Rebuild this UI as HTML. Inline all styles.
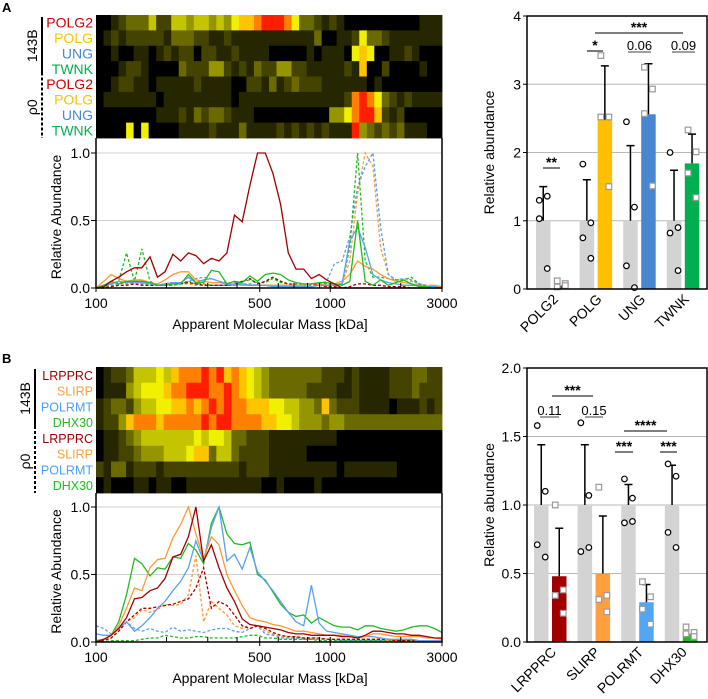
<!DOCTYPE html>
<html><head><meta charset="utf-8">
<style>
html,body{margin:0;padding:0;background:#fff;}
svg{display:block;font-family:"Liberation Sans",Arial,sans-serif;}
</style></head>
<body>
<svg id="fig" width="708" height="699" viewBox="0 0 708 699" xmlns="http://www.w3.org/2000/svg">
<text x="2" y="12" font-size="13" font-weight="bold">A</text>
<text x="2" y="363" font-size="13" font-weight="bold">B</text>
</svg>
<script>
// ---------- shared data ----------
const masses = [100,108,116,125,135,146,157,170,183,197,213,230,248,267,288,311,335,362,390,421,454,489,528,569,614,662,714,770,831,896,966,1042,1124,1212,1308,1410,1521,1641,1770,1909,2059,2221,2395,2583,2786,3000];
const xTickMajor = [100,500,1000,3000];
const xTickMinor = [200,300,400,600,700,800,900,2000];
const lineYTicks = [0,0.5,1.0];
const lineYTickLabels = ["0.0","0.5","1.0"];

// ---------- panel A data ----------
const heatLabelsA = ["POLG2","POLG","UNG","TWNK","POLG2","POLG","UNG","TWNK"];
const heatA = [
"0012333522554554546778999863321210000000000111",
"0121222221333221121111111111130011263321111111",
"0010011012122022112111100000101110676001121000",
"0001221000032224421213224422111112170020000100",
"0012211011111211110022131232221111110100000000",
"0111111101111111110111111111111112898632121111",
"0000000011121323321110000000000446899721200000",
"0000606000011112111311112121212111943232311100"];
const polg2S = [0,0.01,0.05,0.08,0.12,0.15,0.15,0.23,0.08,0.12,0.25,0.2,0.26,0.24,0.18,0.22,0.2,0.26,0.54,0.49,0.76,1.0,1.0,0.85,0.62,0.26,0.14,0.14,0.07,0.1,0.06,0.03,0,0,0,0,0,0,0,0,0,0,0,0,0,0];
const polgS = [0,0.05,0.1,0.07,0.05,0.06,0.06,0.04,0.03,0.06,0.1,0.12,0.12,0.06,0.05,0.04,0.04,0.03,0.03,0.02,0.02,0.02,0.02,0.02,0.02,0.02,0.02,0.02,0.03,0.03,0.02,0.03,0.05,0.1,0.2,0.16,0.14,0.1,0.07,0.05,0.04,0.03,0.02,0.01,0.02,0.01];
const ungS = [0,0.02,0.03,0.05,0.04,0.04,0.04,0.03,0.02,0.03,0.04,0.04,0.08,0.04,0.06,0.07,0.05,0.03,0.02,0.03,0.02,0.02,0.02,0.01,0.01,0.01,0.01,0.01,0.01,0.02,0.02,0.02,0.03,0.35,0.45,0.3,0.1,0.06,0.04,0.03,0.02,0.02,0.02,0.01,0.01,0];
const twnkS = [0,0.02,0.05,0.03,0.05,0.05,0.05,0.04,0.02,0.02,0.03,0.03,0.1,0.04,0.04,0.13,0.12,0.03,0.05,0.04,0.09,0.05,0.1,0.11,0.1,0.06,0.04,0.03,0.03,0.04,0.04,0.03,0.02,0.05,0.5,0.05,0.02,0.06,0.02,0.04,0.06,0.03,0.01,0.01,0,0];
const polg2D = [0,0,0.01,0.02,0.02,0.03,0.02,0.02,0.02,0.03,0.04,0.03,0.04,0.03,0.02,0.02,0.02,0.02,0.03,0.05,0.07,0.03,0.05,0.08,0.05,0.03,0.02,0.02,0.03,0.02,0.01,0.01,0,0.01,0.03,0.03,0.02,0.02,0.01,0.01,0.01,0,0,0,0,0];
const polgD = [0,0.02,0.04,0.04,0.03,0.04,0.04,0.03,0.02,0.02,0.02,0.03,0.03,0.02,0.02,0.02,0.02,0.02,0.02,0.02,0.02,0.02,0.02,0.02,0.02,0.02,0.02,0.02,0.03,0.02,0.02,0.02,0.03,0.2,0.7,1.0,0.9,0.3,0.1,0.06,0.05,0.05,0.03,0.02,0.02,0.01];
const ungD = [0,0.01,0.02,0.03,0.04,0.04,0.03,0.02,0.02,0.02,0.03,0.04,0.05,0.07,0.08,0.07,0.05,0.04,0.04,0.03,0.03,0.02,0.02,0.02,0.02,0.02,0.02,0.02,0.02,0.03,0.05,0.18,0.2,0.38,0.75,0.9,1.0,0.45,0.1,0.06,0.07,0.06,0.03,0.02,0.01,0.01];
const twnkD = [0,0,0.03,0.05,0.26,0.05,0.29,0.05,0.02,0.02,0.02,0.03,0.05,0.03,0.03,0.02,0.02,0.02,0.02,0.05,0.06,0.04,0.04,0.07,0.04,0.03,0.03,0.02,0.03,0.04,0.03,0.03,0.03,0.3,1.0,0.2,0.08,0.08,0.07,0.06,0.06,0.08,0.03,0.01,0,0];

const barCatsA = ["POLG2","POLG","UNG","TWNK"];
const barGrayA = [1,1,1,1];
const barColA = [0.05,2.48,2.56,1.84];
const errGrayA = [1.5,1.6,2.1,1.74];
const errColA = [null,3.27,3.3,2.27];
const ptsGrayA = [[1.3,1.36,1.03,0.3],[1.83,0.97,0.75,0.45],[2.45,1.2,0.34,0.02],[2.0,0.9,0.82,0.27]];
const ptsColA = [[0.03,0.08,0.12,0.05],[3.42,2.52,2.52,1.5],[3.25,2.93,2.57,1.51],[2.33,2.01,1.7,1.34]];
const barYTicksA = [0,1,2,3,4];
const barYTickLabelsA = ["0","1","2","3","4"];

// ---------- panel B data ----------
const heatLabelsB = ["LRPPRC","SLIRP","POLRMT","DHX30","LRPPRC","SLIRP","POLRMT","DHX30"];
const heatB = [
"0122355565788898978765433333332221211112223322",
"0111456667889998898765433333222211211112223222",
"1233245566778789898877766554437322211110111212",
"1224788878888898998888776654443443333333333333",
"0112345555555656653322211111111100000000000000",
"0112234445556773553222211111000000000000000000",
"2133122212222222222122211111111101111111000000",
"0100011011001111111111001000010000000000000000"];
const lrS = [0,0.02,0.05,0.1,0.18,0.32,0.33,0.38,0.4,0.47,0.63,0.65,0.78,1.0,0.6,0.72,0.55,0.4,0.3,0.17,0.13,0.12,0.11,0.1,0.09,0.07,0.06,0.06,0.05,0.05,0.05,0.05,0.04,0.04,0.03,0.05,0.08,0.08,0.07,0.06,0.06,0.05,0.05,0.04,0.03,0.03];
const slS = [0,0.02,0.05,0.12,0.25,0.4,0.38,0.55,0.61,0.62,0.77,0.87,1.0,0.8,0.62,0.78,0.72,0.5,0.38,0.27,0.18,0.16,0.15,0.13,0.12,0.1,0.08,0.08,0.07,0.06,0.05,0.05,0.05,0.04,0.03,0.04,0.06,0.06,0.05,0.04,0.04,0.04,0.04,0.03,0.03,0.02];
const poS = [0.06,0.05,0.05,0.1,0.15,0.08,0.12,0.18,0.25,0.3,0.38,0.45,0.55,0.75,0.6,0.85,1.0,0.6,0.65,0.54,0.7,0.52,0.45,0.38,0.3,0.22,0.15,0.12,0.42,0.14,0.08,0.07,0.06,0.05,0.04,0.04,0.04,0.03,0.02,0.02,0.02,0.02,0.01,0.01,0.01,0.01];
const dhS = [0.01,0.02,0.05,0.15,0.35,0.62,0.58,0.49,0.55,0.54,0.63,0.62,0.73,0.68,0.58,0.88,1.0,0.8,0.73,0.72,0.74,0.5,0.46,0.37,0.28,0.22,0.19,0.2,0.14,0.18,0.15,0.12,0.11,0.11,0.09,0.12,0.12,0.1,0.09,0.08,0.09,0.11,0.12,0.12,0.1,0.07];
const lrD = [0,0.01,0.03,0.08,0.15,0.2,0.25,0.25,0.26,0.27,0.28,0.3,0.32,0.4,0.55,0.25,0.3,0.27,0.2,0.12,0.1,0.12,0.1,0.07,0.05,0.04,0.04,0.03,0.03,0.03,0.02,0.02,0.02,0.02,0.02,0.02,0.02,0.02,0.02,0.01,0.01,0.01,0.01,0.01,0.01,0.01];
const slD = [0,0.01,0.03,0.08,0.15,0.18,0.24,0.22,0.24,0.28,0.27,0.28,0.35,0.64,0.15,0.3,0.25,0.2,0.12,0.1,0.13,0.12,0.08,0.06,0.04,0.04,0.04,0.03,0.03,0.03,0.02,0.02,0.02,0.02,0.02,0.02,0.02,0.02,0.01,0.01,0.01,0.01,0.01,0.01,0.01,0.01];
const poD = [0.12,0.1,0.06,0.1,0.15,0.1,0.08,0.1,0.08,0.07,0.11,0.08,0.09,0.08,0.07,0.09,0.1,0.1,0.08,0.07,0.1,0.12,0.06,0.05,0.03,0.03,0.03,0.02,0.02,0.02,0.02,0.02,0.01,0.01,0.01,0.01,0.01,0.01,0.01,0.01,0.01,0.01,0.01,0.01,0.01,0.01];
const dhD = [0,0,0.01,0.01,0.01,0.01,0.02,0.03,0.03,0.05,0.04,0.03,0.03,0.04,0.04,0.03,0.03,0.03,0.03,0.04,0.05,0.05,0.03,0.03,0.02,0.02,0.02,0.02,0.02,0.01,0.01,0.01,0.01,0.01,0.01,0.01,0.01,0.01,0.01,0.01,0.01,0.01,0.01,0.01,0.01,0.01];

const barCatsB = ["LRPPRC","SLIRP","POLRMT","DHX30"];
const barGrayB = [1,1,1,1];
const barColB = [0.48,0.5,0.29,0.06];
const errGrayB = [1.44,1.44,1.15,1.29];
const errColB = [0.83,0.92,0.42,null];
const ptsGrayB = [[1.58,1.1,0.71,0.62],[1.6,1.07,0.66,0.69],[1.19,1.05,0.87,0.88],[1.3,1.21,0.8,0.69]];
const ptsColB = [[1.0,0.38,0.34,0.21],[1.13,0.34,0.31,0.22],[0.44,0.33,0.24,0.13],[0.11,0.07,0.06,0.04]];
const barYTicksB = [0,0.5,1,1.5,2];
const barYTickLabelsB = ["0.0","0.5","1.0","1.5","2.0"];

// ---------- drawing ----------
const NS = "http://www.w3.org/2000/svg";
const svg = document.getElementById('fig');
function mk(tag, attrs, parent, txt){
  const e = document.createElementNS(NS, tag);
  for (const k in attrs) e.setAttribute(k, attrs[k]);
  if (txt !== undefined) e.textContent = txt;
  (parent||svg).appendChild(e);
  return e;
}
const heatColors = ["#000000","#262600","#444400","#6a6a00","#959500","#c4c400","#f0f000","#ffc400","#ff8000","#ff1e00"];
const L = 96, R = 442;
const xScale = m => L + (Math.log10(m) - 2) / Math.log10(30) * (R - L);

function drawHeat(top, bottom, rows, labels, labelColors, name, fs, bx){
  const g = mk('g', {});
  
  
  const rh = (bottom - top) / rows.length;
  const cw = (R - L) / rows[0].length;
  rows.forEach((row, r) => {
    for (let c = 0; c < row.length; c++){
      const cell = mk('rect', {x: L + c*cw, y: top + r*rh, width: cw + 0.4, height: rh + 0.4, fill: heatColors[+row[c]]}, g);
      
      
    }
    const t = mk('text', {x: 93, y: top + r*rh + rh/2 + 5, 'font-size': fs, 'text-anchor': 'end', fill: labelColors[r]}, svg, labels[r]);
    
    
  });
  const mid = top + (bottom - top) / 2;
  const b1 = mk('line', {x1: bx, y1: top + 2, x2: bx, y2: mid - 1, stroke: '#000', 'stroke-width': 2});
  
  
  const b2 = mk('line', {x1: bx, y1: mid + 1, x2: bx, y2: bottom, stroke: '#000', 'stroke-width': 2, 'stroke-dasharray': '3,2'});
  
  
  const t1 = mk('text', {x: 0, y: 0, 'font-size': 14, 'text-anchor': 'middle', transform: `translate(${bx-5},${top + (mid-top)/2}) rotate(-90)`}, svg, '143B');
  
  
  const t2 = mk('text', {x: 0, y: 0, 'font-size': 14, 'text-anchor': 'middle', transform: `translate(${bx-5},${mid + (bottom-mid)/2}) rotate(-90)`}, svg, 'ρ0');
  
  
}

function drawLines(top, y0, y1, series, name){
  const yS = v => y0 - v * (y0 - y1);
  const g = mk('g', {});
  
  
  lineYTicks.forEach((v, i) => {
    if (v > 0){
      const gl = mk('line', {x1: L, x2: R, y1: yS(v), y2: yS(v), stroke: '#cfcfcf', 'stroke-width': 1}, g);
      
      
    }
    mk('line', {x1: L - 5, x2: L, y1: yS(v), y2: yS(v), stroke: '#000'}, g);
    const tl = mk('text', {x: L - 6, y: yS(v) + 5, 'font-size': 14, 'text-anchor': 'end'}, g, lineYTickLabels[i]);
    
    
  });
  series.forEach(s => {
    const d = s.vals.map((v, i) => (i ? 'L' : 'M') + xScale(masses[i]).toFixed(1) + ',' + yS(v).toFixed(1)).join('');
    const p = mk('path', {d: d, fill: 'none', stroke: s.color, 'stroke-width': 1.3, 'stroke-dasharray': s.dash ? '3,2' : 'none'}, g);
    
    
  });
  const fr = mk('path', {d: `M${L},${top}V${y0}H${R}V${top}`, fill: 'none', stroke: '#000', 'stroke-width': 1.5}, g);
  
  
  xTickMinor.forEach(m => mk('line', {x1: xScale(m), x2: xScale(m), y1: y0 - 5, y2: y0, stroke: '#000'}, g));
  xTickMajor.forEach(m => {
    mk('line', {x1: xScale(m), x2: xScale(m), y1: y0 - 5, y2: y0 + 4, stroke: '#000'}, g);
    const tl = mk('text', {x: xScale(m), y: y0 + 20, 'font-size': 14, 'text-anchor': 'middle'}, g, String(m));
    
    
  });
  const xt = mk('text', {x: 270, y: y0 + 41, 'font-size': 14, 'text-anchor': 'middle'}, g, 'Apparent Molecular Mass [kDa]');
  
  
  const yt = mk('text', {x: 0, y: 0, 'font-size': 14, 'text-anchor': 'middle', transform: `translate(61,${(top + y0)/2 + 4}) rotate(-90)`}, g, 'Relative Abundance');
  
  
}

function drawBars(cfg){
  const bx0 = 527, bx1 = 707;
  const yS = v => cfg.y0 - v * cfg.unit;
  const g = mk('g', {});
  
  
  cfg.ticks.forEach((v, i) => {
    if (i > 0 && i < cfg.ticks.length - 1){
      const gl = mk('line', {x1: bx0, x2: bx1, y1: yS(v), y2: yS(v), stroke: '#b8b8b8'}, g);
      
      
    }
    mk('line', {x1: bx0 - 4, x2: bx0, y1: yS(v), y2: yS(v), stroke: '#000'}, g);
    const tl = mk('text', {x: bx0 - 6, y: yS(v) + 5, 'font-size': 14, 'text-anchor': 'end'}, g, cfg.tickLabels[i]);
    
    
  });
  const W = 14.5;
  cfg.cats.forEach((c, i) => {
    const gx = cfg.gx0 + i * 43.6, cx = gx + 18;
    const gb = mk('rect', {x: gx, y: yS(cfg.gray[i]), width: W, height: cfg.gray[i] * cfg.unit, fill: '#d3d3d3'}, g);
    
    
    const cb = mk('rect', {x: cx, y: yS(cfg.col[i]), width: W, height: cfg.col[i] * cfg.unit, fill: cfg.colors[i]}, g);
    
    
    [[gx, cfg.gray[i], cfg.errG[i]], [cx, cfg.col[i], cfg.errC[i]]].forEach(([x, v, e]) => {
      if (e === null) return;
      const eb = mk('path', {d: `M${x + W/2},${yS(v)}V${yS(e)}M${x + W/2 - 4},${yS(e)}H${x + W/2 + 4}`, stroke: '#000', 'stroke-width': 1.5, fill: 'none'}, g);
      
      
    });
    cfg.ptsG[i].forEach((v, k) => {
      const p = mk('circle', {cx: gx + W/2 + (k % 2 ? 4 : -4), cy: yS(v), r: 2.8, fill: '#fff', stroke: '#000', 'stroke-width': 1.2}, g);
      
      
    });
    cfg.ptsC[i].forEach((v, k) => {
      const p = mk('rect', {x: cx + W/2 + (k % 2 ? 4 : -4) - 2.8, y: yS(v) - 2.8, width: 5.6, height: 5.6, fill: '#fff', stroke: '#999', 'stroke-width': 1.2}, g);
      
      
    });
    const xl = mk('text', {x: 0, y: 0, 'font-size': 14, 'text-anchor': 'end', transform: `translate(${gx + 23},${cfg.y0 + 11}) rotate(-45)`}, g, c);
    
    
  });
  const fr = mk('rect', {x: bx0, y: cfg.top, width: bx1 - bx0, height: cfg.y0 - cfg.top, fill: 'none', stroke: '#000', 'stroke-width': 1.5}, g);
  
  
  const yt = mk('text', {x: 0, y: 0, 'font-size': 14, 'text-anchor': 'middle', transform: `translate(494,${(cfg.top + cfg.y0)/2}) rotate(-90)`}, g, 'Relative abundance');
  
  
  cfg.sig.forEach(s => {
    const ln = mk('line', {x1: s[0], x2: s[1], y1: s[2], y2: s[2], stroke: s[4] ? '#666' : '#333', 'stroke-width': 1.3}, g);
    
    
    const tx = mk('text', {x: (s[0] + s[1]) / 2, y: s[2] - (s[4] ? 2 : 1), 'font-size': s[4] ? 13 : 14, 'text-anchor': 'middle', 'font-weight': s[4] ? 'normal' : 'bold'}, g, s[3]);
    
    
  });
}

// Panel A
drawHeat(15, 138, heatA, heatLabelsA, ["#cc0000","#ffc000","#4a86d8","#00b050","#cc0000","#ffc000","#4a86d8","#00b050"], 'heatmap-a', 14, 42);
drawLines(138, 288, 153, [
  {name:'line-polg-rho0', vals: polgD, color:'#ff9933', dash:true},
  {name:'line-ung-rho0', vals: ungD, color:'#5aa0f0', dash:true},
  {name:'line-twnk-rho0', vals: twnkD, color:'#22bb22', dash:true},
  {name:'line-polg2-rho0', vals: polg2D, color:'#a00000', dash:true},
  {name:'line-polg-143b', vals: polgS, color:'#ff9933'},
  {name:'line-ung-143b', vals: ungS, color:'#5aa0f0'},
  {name:'line-twnk-143b', vals: twnkS, color:'#22bb22'},
  {name:'line-polg2-143b', vals: polg2S, color:'#a00000'}
], 'line-chart-a');
drawBars({name:'bar-chart-a', top:16, y0:289, unit:68.25, gx0:536, ticks:barYTicksA, tickLabels:barYTickLabelsA,
  cats:barCatsA, gray:barGrayA, col:barColA, errG:errGrayA, errC:errColA, ptsG:ptsGrayA, ptsC:ptsColA,
  colors:['#a00000','#ffc000','#4a86d0','#00b050'],
  sig:[[543,560,168,'**',0],[587,603,51,'*',0],[595,683,33,'***',0],[628,651,52,'0.06',1],[672,695,52,'0.09',1]]});

// Panel B
drawHeat(367, 493, heatB, heatLabelsB, ["#a00000","#ff9f40","#4aa0ff","#22bb22","#a00000","#ff9f40","#4aa0ff","#22bb22"], 'heatmap-b', 12.5, 35);
drawLines(493, 642, 507, [
  {name:'line-polrmt-rho0', vals: poD, color:'#5aa0f0', dash:true},
  {name:'line-dhx30-rho0', vals: dhD, color:'#22bb22', dash:true},
  {name:'line-slirp-rho0', vals: slD, color:'#ff9933', dash:true},
  {name:'line-lrpprc-rho0', vals: lrD, color:'#a00000', dash:true},
  {name:'line-dhx30-143b', vals: dhS, color:'#22bb22'},
  {name:'line-polrmt-143b', vals: poS, color:'#5aa0f0'},
  {name:'line-slirp-143b', vals: slS, color:'#ff9933'},
  {name:'line-lrpprc-143b', vals: lrS, color:'#a00000'}
], 'line-chart-b');
drawBars({name:'bar-chart-b', top:368, y0:642, unit:137, gx0:534, ticks:barYTicksB, tickLabels:barYTickLabelsB,
  cats:barCatsB, gray:barGrayB, col:barColB, errG:errGrayB, errC:errColB, ptsG:ptsGrayB, ptsC:ptsColB,
  colors:['#a00000','#ff9f40','#55a5f5','#22bb22'],
  sig:[[552,593,396,'***',0],[540,559,417,'0.11',1],[585,603,417,'0.15',1],[624,667,431,'****',0],[615,633,452,'***',0],[660,677,452,'***',0]]});
</script>
</body></html>
